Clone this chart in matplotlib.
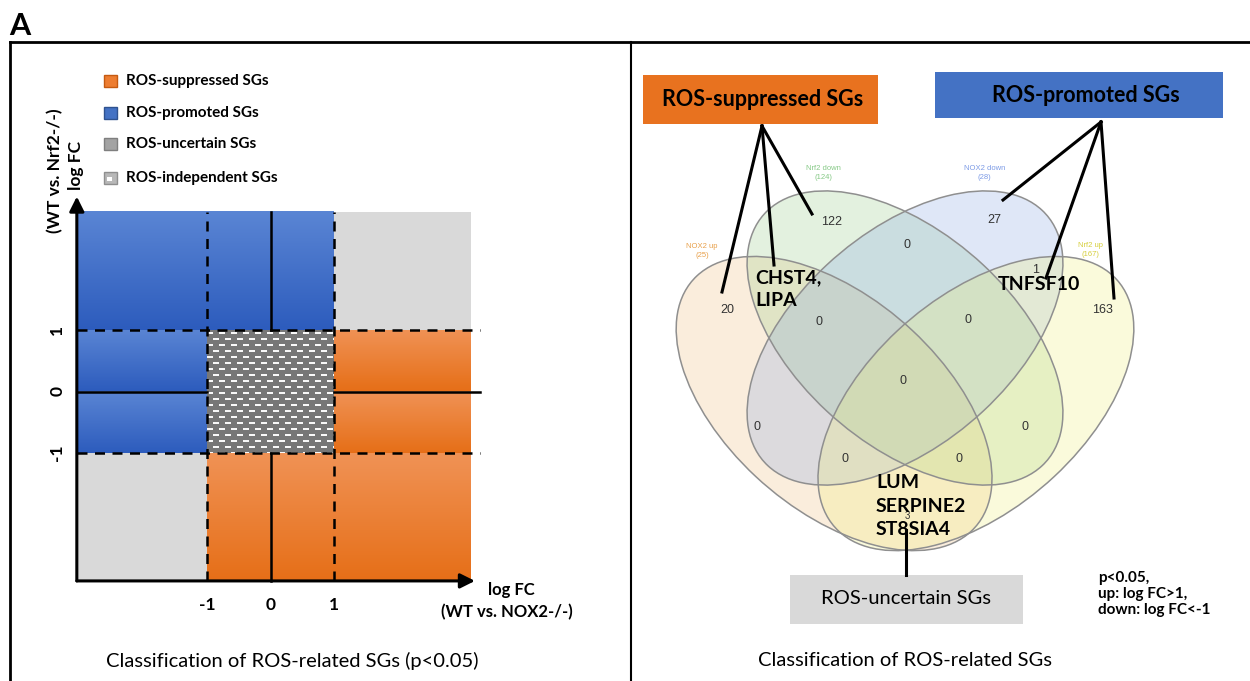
import numpy as np
import matplotlib
matplotlib.use("Agg")
import matplotlib.pyplot as plt
from matplotlib.patches import Rectangle, Ellipse
from matplotlib.colors import LinearSegmentedColormap

plt.rcParams['font.family'] = ['Lato', 'DejaVu Sans']

# ---------------- data ----------------
# left panel: log FC thresholds used for the classification
thresholds = [-1, 0, 1]
tick_labels = ['-1', '0', '1']
legend_labels = ['ROS-suppressed SGs', 'ROS-promoted SGs', 'ROS-uncertain SGs', 'ROS-independent SGs']
# grid of classes, rows bottom -> top, cols left -> right
cell_class = [['gray', 'orange', 'orange'],
              ['blue', 'hatch', 'orange'],
              ['blue', 'blue', 'gray']]

# right panel: Venn sets and region counts
set_names = ['NOX2 up', 'Nrf2 down', 'NOX2 down', 'Nrf2 up']
set_sizes = [25, 124, 28, 167]
region_counts = [20, 122, 27, 163, 0, 0, 0, 0, 0, 0, 0, 0, 3, 1]
gene_groups = ['CHST4,\nLIPA', 'TNFSF10', 'LUM\nSERPINE2\nST8SIA4']

# ---------------- layout ----------------
W, H = 1250, 681
fig = plt.figure(figsize=(12.5, 6.81), dpi=100)

bg = fig.add_axes([0, 0, 1, 1])
bg.set_xlim(0, W)
bg.set_ylim(H, 0)
bg.axis('off')

# frame
bg.plot([10, W], [42, 42], color='black', lw=2)
bg.plot([10, 10], [42, H], color='black', lw=2)
bg.plot([631, 631], [42, H], color='black', lw=1.5)
bg.text(9, 26, 'A', fontsize=22, fontweight='bold', va='center', ha='left')

# ---- left panel axes (pixel -> data mapping) ----
x0px, xu = 270.5, 63.5
y0px, yu = 391.5, 61.5
axL = fig.add_axes([10 / W, 0, 621 / W, (H - 42) / H])
axL.patch.set_alpha(0)
axL.axis('off')

x_lo, x_hi, y_lo, y_hi = -3.05, 3.15, -3.08, 2.92
ex = [x_lo, thresholds[0], thresholds[2], x_hi]
ey = [y_lo, thresholds[0], thresholds[2], y_hi]

grad_cols = {'blue': ('#5a85d4', '#2d5cbd'),
             'orange': ('#f09255', '#e66f18')}


def grad(ax, x0, x1, y0, y1, ctop, cbot):
    cmap = LinearSegmentedColormap.from_list('g', [cbot, ctop])
    arr = np.linspace(0, 1, 64).reshape(-1, 1)
    ax.imshow(arr, cmap=cmap, extent=(x0, x1, y0, y1), origin='lower',
              aspect='auto', interpolation='bilinear', zorder=1)


for r in range(3):
    for c in range(3):
        kind = cell_class[r][c]
        xa, xb, ya, yb = ex[c], ex[c + 1], ey[r], ey[r + 1]
        if kind == 'gray':
            axL.add_patch(Rectangle((xa, ya), xb - xa, yb - ya, facecolor='#d9d9d9',
                                    edgecolor='none', zorder=1))
        elif kind == 'hatch':
            # texture of white dashes on grey
            ph, pw = 123, 127
            rr = np.arange(ph)[:, None]
            cc = np.arange(pw)[None, :]
            shift = ((rr // 6) % 2) * 6
            on = ((rr % 6) >= 2) & ((rr % 6) < 4) & (((cc + shift) % 12) < 6)
            img = np.where(on[..., None], np.array([0.98, 0.98, 0.98]), np.array([0.47, 0.47, 0.47]))
            axL.imshow(img, extent=(xa, xb, ya, yb), aspect='auto', interpolation='nearest', zorder=1)
        else:
            ctop, cbot = grad_cols[kind]
            if r == 1:
                grad(axL, xa, xb, thresholds[1], yb, ctop, cbot)
                grad(axL, xa, xb, ya, thresholds[1], ctop, cbot)
            else:
                grad(axL, xa, xb, ya, yb, ctop, cbot)

# dashed thresholds
for t in (thresholds[0], thresholds[2]):
    axL.plot([t, t], [y_lo, y_hi], color='black', lw=1.8, ls=(0, (4, 3)), zorder=3)
    axL.plot([x_lo, 3.3], [t, t], color='black', lw=1.8, ls=(0, (4, 3)), zorder=3)
# solid zero lines outside the center cell
axL.plot([x_lo, thresholds[0]], [0, 0], color='black', lw=1.8, zorder=3)
axL.plot([thresholds[2], 3.3], [0, 0], color='black', lw=1.8, zorder=3)
axL.plot([0, 0], [thresholds[2], y_hi], color='black', lw=1.8, zorder=3)
axL.plot([0, 0], [y_lo, thresholds[0]], color='black', lw=1.8, zorder=3)

# axes with arrows
arw = dict(arrowstyle='-|>', lw=2.2, color='black', mutation_scale=22, shrinkA=0, shrinkB=0)
axL.annotate('', xy=(3.22, y_lo), xytext=(x_lo, y_lo), arrowprops=arw, zorder=4)
axL.annotate('', xy=(x_lo, 3.17), xytext=(x_lo, y_lo), arrowprops=arw, zorder=4)

for t, lab in zip(thresholds, tick_labels):
    axL.text(t, -3.47, lab, fontsize=12.5, fontweight='bold', ha='center', va='center')
    axL.text(-3.36, t, lab, fontsize=12.5, fontweight='bold', ha='center', va='center', rotation=90)

axL.set_xlim((10 - x0px) / xu, (631 - x0px) / xu)
axL.set_ylim((y0px - H) / yu, (y0px - 42) / yu)

# axis labels + title (pixel coords)
bg.text(488, 590, 'log FC', fontsize=12, fontweight='bold', ha='left', va='center')
bg.text(507, 612, '(WT vs. NOX2-/-)', fontsize=12, fontweight='bold', ha='center', va='center')
bg.text(76, 166, 'log FC', fontsize=12.5, fontweight='bold', ha='center', va='center', rotation=90)
bg.text(55, 171, '(WT vs. Nrf2-/-)', fontsize=12.5, fontweight='bold', ha='center', va='center', rotation=90)
bg.text(292, 661, 'Classification of ROS-related SGs (p<0.05)', fontsize=14.5, ha='center', va='center')

# legend
leg_face = ['#ed7d31', '#4472c4', '#a3a3a3', '#b8b8b8']
leg_edge = ['#c55a11', '#2f528f', '#7f7f7f', '#8f8f8f']
leg_y = [81, 113, 144, 178]
for lab, fc, ec, yy in zip(legend_labels, leg_face, leg_edge, leg_y):
    bg.add_patch(Rectangle((104, yy - 6), 13, 12, facecolor=fc, edgecolor=ec, lw=1))
    bg.text(126, yy, lab, fontsize=11, fontweight='bold', ha='left', va='center')
bg.add_patch(Rectangle((107, leg_y[3] - 1), 5, 4, facecolor='white', edgecolor='none'))

# ---- right panel: Venn ----
ucx, usx = 905, 554
vcy, vsy = 338, 516
axR = fig.add_axes([631 / W, 0, 619 / W, (H - 42) / H])
axR.patch.set_alpha(0)
axR.axis('off')

ell_centers = [(0.372, 0.443), (0.5, 0.57), (0.5, 0.57), (0.628, 0.443)]
ell_angles = [135, 135, 45, 45]
ell_colors = ['#efbb77', '#93cb83', '#83a3e3', '#efef73']
label_colors = ['#e8a04a', '#86c986', '#7d9be6', '#d6cf3c']
for (cx, cy), ang, col in zip(ell_centers, ell_angles, ell_colors):
    axR.add_patch(Ellipse((cx, cy), 0.70, 0.40, angle=ang, facecolor=col, alpha=0.25,
                          edgecolor='none', zorder=1))
for (cx, cy), ang in zip(ell_centers, ell_angles):
    axR.add_patch(Ellipse((cx, cy), 0.70, 0.40, angle=ang, facecolor='none',
                          edgecolor='#8f8f8f', lw=1.1, zorder=2))

cat_pos = [(0.134, 0.739), (0.352, 0.890), (0.644, 0.890), (0.834, 0.741)]
for name, n, (px, py), col in zip(set_names, set_sizes, cat_pos, label_colors):
    axR.text(px, py, f'{name}\n({n})', fontsize=5.5, color=col, ha='center', va='center',
             family='Liberation Sans', linespacing=1.3)

region_pos = [(0.180, 0.624), (0.368, 0.795), (0.662, 0.799), (0.857, 0.624),
              (0.504, 0.750), (0.345, 0.601), (0.614, 0.605), (0.496, 0.487),
              (0.233, 0.398), (0.717, 0.398), (0.392, 0.335), (0.597, 0.335),
              (0.505, 0.225), (0.735, 0.702)]
for n, (px, py) in zip(region_counts, region_pos):
    fs = 7 if n == 3 else 9
    axR.text(px, py, str(n), fontsize=fs, color='#333333', ha='center', va='center',
             family='Liberation Sans', zorder=3)

axR.set_xlim(0.5 + (631 - ucx) / usx, 0.5 + (W - ucx) / usx)
axR.set_ylim(0.57 + (vcy - H) / vsy, 0.57 + (vcy - 42) / vsy)

# ---- overlay for annotations on top of the Venn ----
ov = fig.add_axes([0, 0, 1, 1])
ov.set_xlim(0, W)
ov.set_ylim(H, 0)
ov.axis('off')
ov.patch.set_alpha(0)

# gene labels
ov.text(755, 289, gene_groups[0], fontsize=14, fontweight='bold', ha='left', va='center',
        linespacing=1.45)
ov.text(998, 285, gene_groups[1], fontsize=14, fontweight='bold', ha='left', va='center')
ov.text(876, 506, gene_groups[2], fontsize=14, fontweight='bold', ha='left', va='center',
        linespacing=1.45)

# category boxes
ov.add_patch(Rectangle((643, 75), 235, 49, facecolor='#e8721f', edgecolor='none'))
ov.text(763, 99, 'ROS-suppressed SGs', fontsize=15.5, fontweight='bold', ha='center', va='center')
ov.add_patch(Rectangle((935, 72), 288, 46, facecolor='#4472c4', edgecolor='none'))
ov.text(1086, 95, 'ROS-promoted SGs', fontsize=15.5, fontweight='bold', ha='center', va='center')
ov.add_patch(Rectangle((790, 575), 233, 49, facecolor='#d9d9d9', edgecolor='none'))
ov.text(906, 599, 'ROS-uncertain SGs', fontsize=14.5, ha='center', va='center')

# connectors
for ex_, ey_ in [(722, 292), (774, 265), (812, 214)]:
    ov.plot([762, ex_], [126, ey_], color='black', lw=2.2)
for ex_, ey_ in [(1003, 200), (1046, 278), (1114, 298)]:
    ov.plot([1101, ex_], [122, ey_], color='black', lw=2.2)
ov.plot([906, 906], [530, 575], color='black', lw=2.2)

ov.text(1098, 594, 'p<0.05,\nup: log FC>1,\ndown: log FC<-1', fontsize=11, fontweight='bold',
        ha='left', va='center', linespacing=1.2)
ov.text(905, 661, 'Classification of ROS-related SGs', fontsize=14.5, ha='center', va='center')

fig.savefig('out.png', dpi=100)
